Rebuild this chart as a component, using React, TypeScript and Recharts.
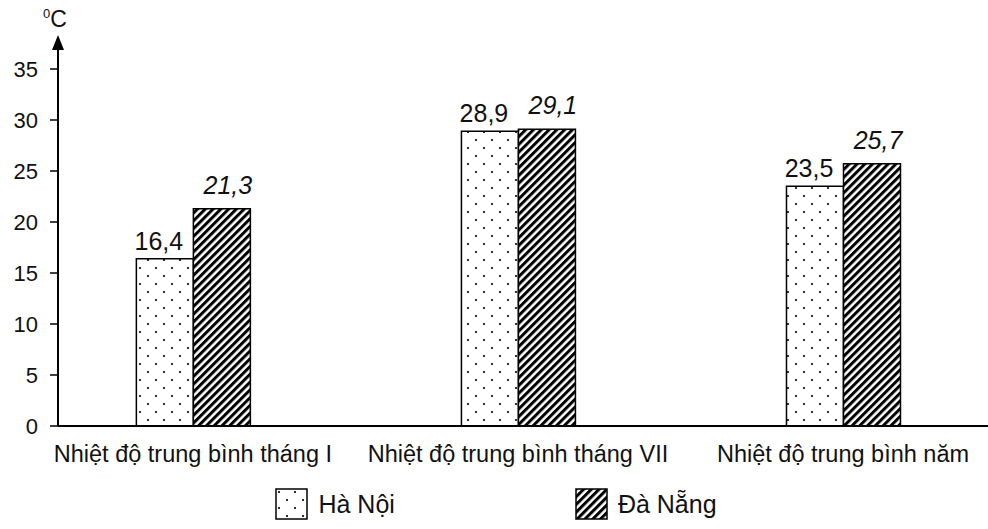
import { Bar, BarChart, LabelList, Legend, XAxis, YAxis } from "recharts";

const categories = ["Nhiệt độ trung bình tháng I", "Nhiệt độ trung bình tháng VII", "Nhiệt độ trung bình năm"];
const haNoi = [16.4, 28.9, 23.5];
const daNang = [21.3, 29.1, 25.7];
const yTicks = [0, 5, 10, 15, 20, 25, 30, 35];

const data = categories.map((name, i) => ({ pos: i, name, haNoi: haNoi[i], daNang: daNang[i] }));

const FONT = "'Liberation Sans', Arial, sans-serif";
const comma = (v: unknown) => String(v).replace(".", ",");

function Patterns() {
  return (
    <defs>
      <pattern id="dots" width="16" height="16" patternUnits="userSpaceOnUse">
        <rect width="16" height="16" fill="#fff" />
        <circle cx="4" cy="4" r="1.1" fill="#000" />
        <circle cx="12" cy="12" r="1.1" fill="#000" />
      </pattern>
      <pattern id="hatch" width="5.5" height="5.5" patternUnits="userSpaceOnUse" patternTransform="rotate(45)">
        <rect width="5.5" height="5.5" fill="#fff" />
        <rect width="3" height="5.5" fill="#000" />
      </pattern>
    </defs>
  );
}

// arrow head + unit drawn above the y axis
function AxisUnit(props: any) {
  const vb = props.viewBox || {};
  const x = (vb.x ?? 0) + (vb.width ?? 58);
  const top = vb.y ?? 69;
  return (
    <g>
      <line x1={x} y1={top} x2={x} y2={48} stroke="#000" strokeWidth={2} />
      <polygon points={`${x},35 ${x - 6},50 ${x + 6},50`} fill="#000" />
      <text x={43} y={27} fontFamily={FONT} fill="#111">
        <tspan fontSize={13} dy={-9}>0</tspan>
        <tspan fontSize={23} dy={9}>C</tspan>
      </text>
    </g>
  );
}

function LegendContent() {
  const item = (fill: string, label: string, gapAfter: number) => (
    <div style={{ display: "flex", alignItems: "center", marginRight: gapAfter }}>
      <svg width={33} height={32} style={{ marginRight: 10 }}>
        <Patterns />
        <rect x={1} y={1} width={31} height={30} fill={fill} stroke="#000" strokeWidth={1.5} />
      </svg>
      <span style={{ fontFamily: FONT, fontSize: 25, color: "#111" }}>{label}</span>
    </div>
  );
  return (
    <div style={{ display: "flex", justifyContent: "center", paddingLeft: 4 }}>
      {item("url(#dots)", "Hà Nội", 180)}
      {item("url(#hatch)", "Đà Nẵng", 0)}
    </div>
  );
}

export default function App() {
  return (
    <div style={{ position: "relative", width: 988, height: 529 }}>
      <style>{`body{margin:0}`}</style>
      <BarChart
        width={988}
        height={529}
        data={data}
        margin={{ top: 69, right: 0, bottom: 73, left: 0 }}
        barGap={0}
        barSize={57}
      >
        <Patterns />
        <XAxis
          type="number"
          dataKey="pos"
          domain={[-0.415, 2.446]}
          ticks={[0, 1, 2]}
          tickFormatter={(i: number) => categories[i] ?? ""}
          interval={0}
          height={30}
          tickLine={false}
          tickSize={0}
          tickMargin={19}
          axisLine={{ stroke: "#000", strokeWidth: 2 }}
          tick={{ fill: "#111", fontSize: 23.5, fontFamily: FONT }}
          allowDataOverflow
        />
        <YAxis
          width={58}
          domain={[0, 35]}
          ticks={yTicks}
          interval={0}
          tickSize={8}
          tickMargin={12}
          axisLine={{ stroke: "#000", strokeWidth: 2 }}
          tickLine={{ stroke: "#000", strokeWidth: 1.5 }}
          tick={{ fill: "#111", fontSize: 22, fontFamily: FONT }}
          label={{ content: AxisUnit }}
        />
        {/* middle alignment keeps the legend from shrinking the plot */}
        <Legend
          content={LegendContent}
          layout="horizontal"
          align="center"
          verticalAlign="middle"
          wrapperStyle={{ position: "absolute", left: 0, top: 488, width: 988 }}
        />
        <Bar dataKey="haNoi" name="Hà Nội" fill="url(#dots)" stroke="#000" strokeWidth={1.5} isAnimationActive={false}>
          <LabelList
            dataKey="haNoi"
            position="top"
            offset={9}
            dx={-6}
            formatter={comma}
            style={{ fill: "#111", fontSize: 25, fontFamily: FONT }}
          />
        </Bar>
        <Bar dataKey="daNang" name="Đà Nẵng" fill="url(#hatch)" stroke="#000" strokeWidth={1.5} isAnimationActive={false}>
          <LabelList
            dataKey="daNang"
            position="top"
            offset={15}
            dx={6}
            formatter={comma}
            style={{ fill: "#111", fontSize: 25, fontFamily: FONT, fontStyle: "italic" }}
          />
        </Bar>
      </BarChart>
    </div>
  );
}
